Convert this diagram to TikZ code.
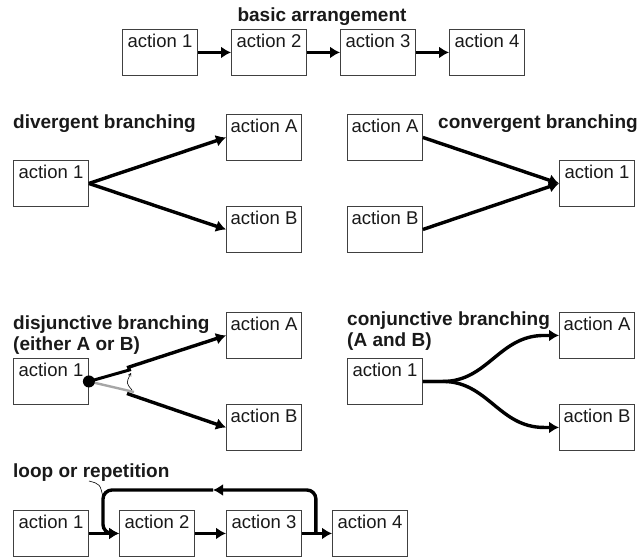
\documentclass[tikz,border=0pt]{standalone}
\usepackage{fontspec}
\setmainfont{Liberation Sans}
\usetikzlibrary{arrows.meta,calc}
\begin{document}
\begin{tikzpicture}[x=1pt,y=-1pt,
  box/.style={draw=black!75, line width=0.9pt, rectangle, anchor=north west,
    minimum width=75pt, minimum height=46pt, inner xsep=0pt, inner ysep=2pt,
    text height=16pt, text depth=26pt, font=\fontsize{18.5}{21}\selectfont, text=black!90},
  ttl/.style={font=\bfseries\fontsize{19}{22}\selectfont, inner sep=0pt, text=black!90},
  arr/.style={line width=3.4pt, -{Latex[length=10pt,width=12pt]}},
  thk/.style={line width=3pt},
]
\useasboundingbox (0,0) rectangle (638,557);

% basic arrangement
\node[ttl, anchor=base] (t0) at (322,21) {basic arrangement};
\node[box] (b1) at (122,29) {action 1};
\node[box] (b2) at (231,29) {action 2};
\node[box] (b3) at (340,29) {action 3};
\node[box] (b4) at (449,29) {action 4};
\draw[arr] (b1.east) -- (b2.west);
\draw[arr] (b2.east) -- (b3.west);
\draw[arr] (b3.east) -- (b4.west);

% divergent
\node[ttl, anchor=base west] (t1) at (13,128) {divergent branching};
\node[box] (d1) at (13,160) {action 1};
\node[box] (dA) at (226,114) {action A};
\node[box] (dB) at (226,206) {action B};
\draw[arr] (d1.east) -- (dA.west);
\draw[arr] (d1.east) -- (dB.west);

% convergent
\node[ttl, anchor=base west] (t2) at (438,128) {convergent branching};
\node[box] (cA) at (347,114) {action A};
\node[box] (cB) at (347,206) {action B};
\node[box] (c1) at (559,160) {action 1};
\draw[arr] (cA.east) -- (c1.west);
\draw[arr] (cB.east) -- (c1.west);

% disjunctive
\node[ttl, anchor=base west] (t3) at (13,329) {disjunctive branching};
\node[ttl, anchor=base west] (t3b) at (13,350) {(either A or B)};
\node[box] (j1) at (13,358) {action 1};
\node[box] (jA) at (226,312) {action A};
\node[box] (jB) at (226,404) {action B};
\coordinate (ju) at (127,367.7);
\coordinate (jl) at (127,393.5);
\coordinate (jk) at (131,369.5);
\coordinate (jg) at (134,392);
\draw[line width=2.4pt, black!35] (j1.east) -- (jg);
\draw[thk] (j1.east) -- (jk);
\draw[arr] (ju) -- (jA.west);
\draw[arr] (jl) -- (jB.west);
\fill (j1.east) circle (6);
\draw[line width=0.6pt, -{Straight Barb[length=2.5pt,width=3pt]}] (132,390) .. controls (126,383) .. (131,373);

% conjunctive
\node[ttl, anchor=base west] (t4) at (347,325) {conjunctive branching};
\node[ttl, anchor=base west] (t4b) at (347,346) {(A and B)};
\node[box] (k1) at (347,358) {action 1};
\node[box] (kA) at (559,312) {action A};
\node[box] (kB) at (559,404) {action B};
\draw[arr] (k1.east) -- ++(20,0) .. controls +(45,0) and ($(kA.west)+(-60,0)$) .. ($(kA.west)+(-15,0)$) -- (kA.west);
\draw[arr] (k1.east) -- ++(20,0) .. controls +(45,0) and ($(kB.west)+(-60,0)$) .. ($(kB.west)+(-15,0)$) -- (kB.west);

% loop
\node[ttl, anchor=base west] (t5) at (13,477) {loop or repetition};
\node[box] (l1) at (13,510) {action 1};
\node[box] (l2) at (119,510) {action 2};
\node[box] (l3) at (226,510) {action 3};
\node[box] (l4) at (332,510) {action 4};
\coordinate (lr) at ($(l3.east)+(14,0)$);
\coordinate (lm) at (213,490);
\coordinate (ll) at ($(l2.west)+(-16,0)$);
\draw[arr] (l1.east) -- (l2.west);
\draw[arr] (l2.east) -- (l3.west);
\draw[arr] (l3.east) -- (l4.west);
\draw[arr, rounded corners=9pt] (lr) |- (lm);
\draw[arr, rounded corners=9pt] (lm) -| (ll) -- (l2.west);
\coordinate (lp) at (89,481);
\draw[line width=0.6pt] (lp) .. controls (100,484) .. (103,497);
\end{tikzpicture}
\end{document}
